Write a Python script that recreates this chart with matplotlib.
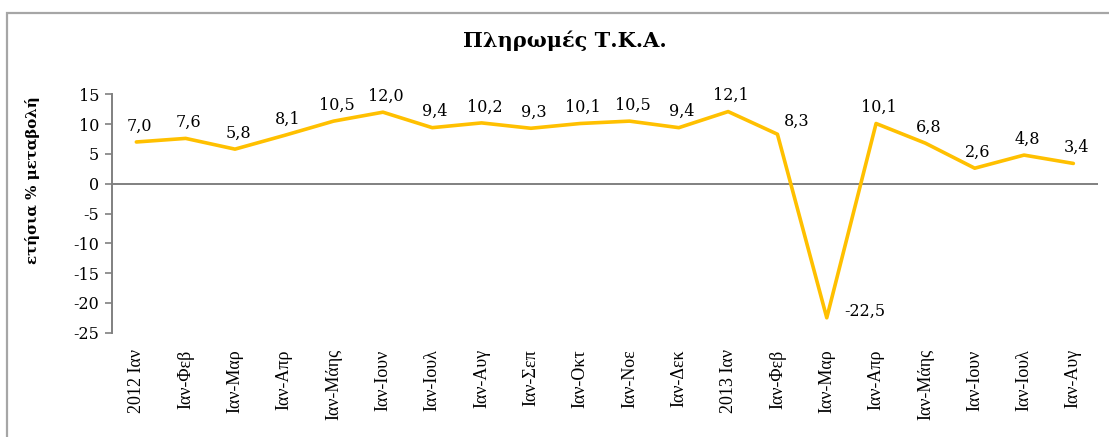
import matplotlib
matplotlib.use("Agg")
import matplotlib.pyplot as plt
from matplotlib.patches import Rectangle

categories = ["2012 Ιαν", "Ιαν-Φεβ", "Ιαν-Μαρ", "Ιαν-Απρ", "Ιαν-Μάης", "Ιαν-Ιουν",
              "Ιαν-Ιουλ", "Ιαν-Αυγ", "Ιαν-Σεπ", "Ιαν-Οκτ", "Ιαν-Νοε", "Ιαν-Δεκ",
              "2013 Ιαν", "Ιαν-Φεβ", "Ιαν-Μαρ", "Ιαν-Απρ", "Ιαν-Μάης", "Ιαν-Ιουν",
              "Ιαν-Ιουλ", "Ιαν-Αυγ"]
values = [7.0, 7.6, 5.8, 8.1, 10.5, 12.0, 9.4, 10.2, 9.3, 10.1, 10.5, 9.4,
          12.1, 8.3, -22.5, 10.1, 6.8, 2.6, 4.8, 3.4]
yticks = [-25, -20, -15, -10, -5, 0, 5, 10, 15]
title = "Πληρωμές Τ.Κ.Α."
ylabel = "ετήσια % μεταβολή"

plt.rcParams['axes.unicode_minus'] = False

W, H = 1109, 437
fig = plt.figure(figsize=(W / 100, H / 100), dpi=100)
ax = fig.add_axes([111.7 / W, 1 - 332.7 / H, (1098 - 111.7) / W, (332.7 - 94.3) / H])

x = list(range(len(values)))
ax.plot(x, values, color='#FFC000', lw=2.6, solid_joinstyle='round', solid_capstyle='round', zorder=3)
ax.axhline(0, color='#808080', lw=1.4, zorder=2)

ax.set_xlim(-0.5, len(values) - 0.5)
ax.set_ylim(-25, 15)
ax.set_yticks(yticks)
ax.set_yticklabels([str(t) for t in yticks], family='DejaVu Serif', fontsize=11.5)
ax.set_xticks(x)
ax.set_xticklabels(categories, rotation=90, family='Liberation Serif', fontsize=13, va='top')
ax.tick_params(axis='x', length=0, pad=12)
ax.tick_params(axis='y', length=5, width=1.2, color='#808080', pad=4)

for s in ['top', 'right', 'bottom']:
    ax.spines[s].set_visible(False)
ax.spines['left'].set_color('#808080')
ax.spines['left'].set_linewidth(1.4)

for i, v in enumerate(values):
    lab = f"{v:.1f}".replace('.', ',')
    if v < 0:
        ax.annotate(lab, (i, v), xytext=(17, 6), textcoords='offset pixels',
                    ha='left', va='center', family='DejaVu Serif', fontsize=11.5)
    elif i == 13:
        ax.annotate(lab, (i, v), xytext=(19, 13), textcoords='offset pixels',
                    ha='center', va='center', family='DejaVu Serif', fontsize=11.5)
    else:
        ax.annotate(lab, (i, v), xytext=(3, 16), textcoords='offset pixels',
                    ha='center', va='center', family='DejaVu Serif', fontsize=11.5)

fig.text(565 / W, 1 - 41 / H, title, ha='center', va='center',
         family='DejaVu Serif', fontweight='bold', fontsize=15)
fig.text(33 / W, 1 - 180 / H, ylabel, ha='center', va='center', rotation=90,
         family='DejaVu Serif', fontweight='bold', fontsize=10.8)

fig.add_artist(Rectangle((7 / W, -0.1), 1.2, (H - 12.7) / H + 0.1, transform=fig.transFigure,
                         fill=False, edgecolor='#a6a6a6', lw=1.6))

fig.savefig("out.png", dpi=100)
